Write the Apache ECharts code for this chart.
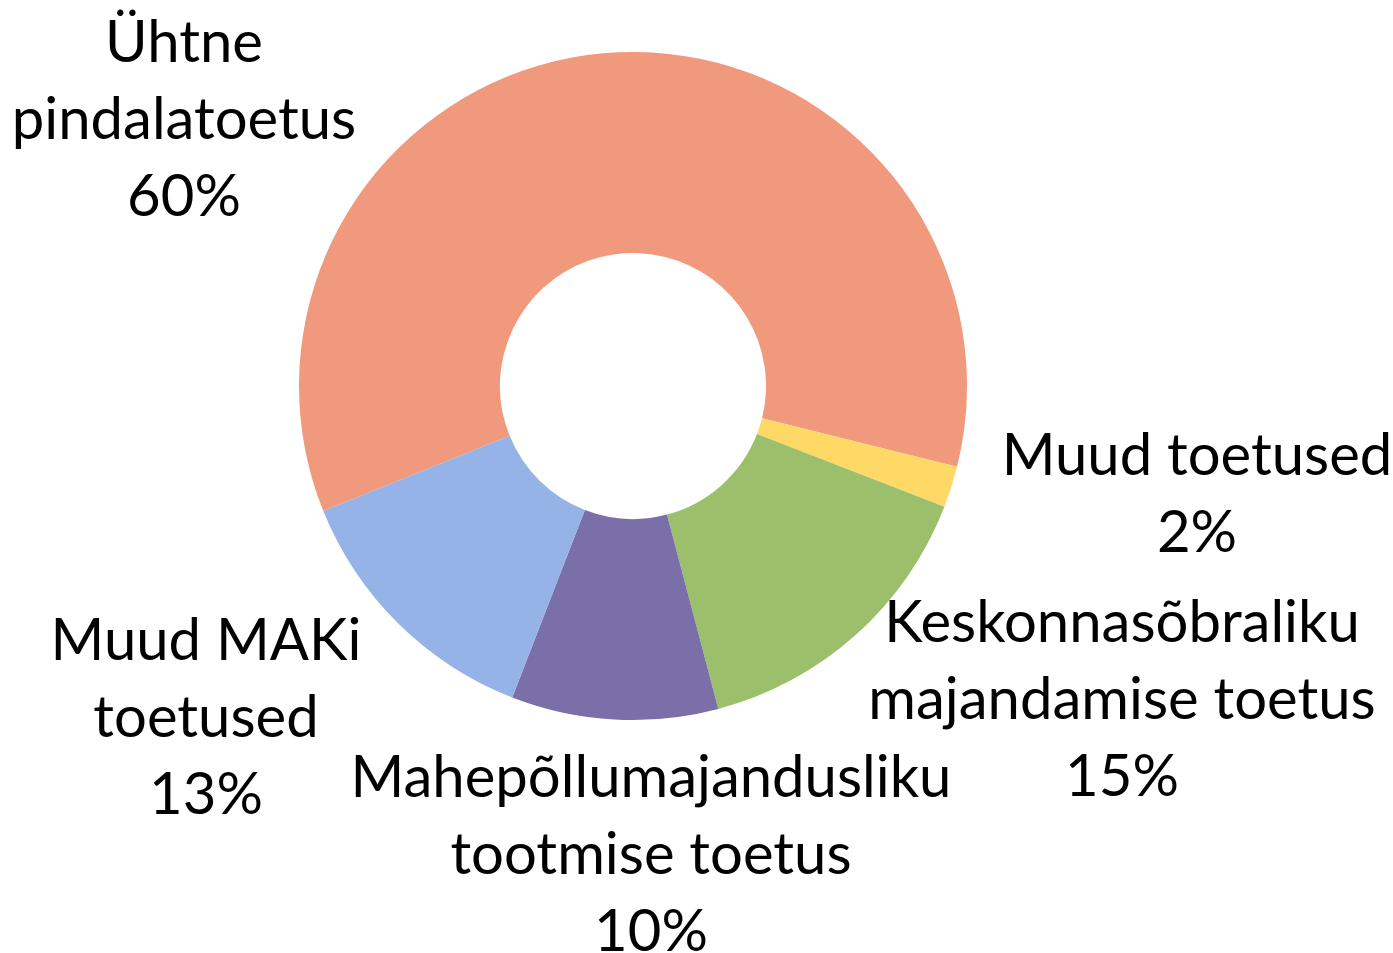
<!DOCTYPE html>
<html>
<head>
<meta charset="utf-8">
<script src="https://cdn.jsdelivr.net/npm/echarts@6/dist/echarts.min.js"></script>
<style>
html,body{margin:0;padding:0;background:#fff;}
#chart{width:1393px;height:953px;}
</style>
</head>
<body>
<div id="chart"></div>
<script>
// Data
const categories = [
  'Ühtne\npindalatoetus',
  'Muud toetused',
  'Keskonnasõbraliku\nmajandamise toetus',
  'Mahepõllumajandusliku\ntootmise toetus',
  'Muud MAKi\ntoetused'
];
const shares = [60, 2, 15, 10, 13];

// Styling / layout (not data)
const colors = ['#F0997D', '#FFD966', '#9BBF6A', '#7A6FA8', '#95B3E6'];
const labelCenters = [
  [184, 120],
  [1197, 495],
  [1122, 700],
  [651, 855],
  [206, 718]
];

const chart = echarts.init(document.getElementById('chart'), null, {renderer: 'canvas'});
chart.setOption({
  animation: false,
  backgroundColor: '#ffffff',
  series: [{
    type: 'pie',
    center: [633, 386],
    radius: [133, 334],
    startAngle: 202,
    clockwise: true,
    avoidLabelOverlap: false,
    data: categories.map((c, i) => ({
      name: c,
      value: shares[i],
      itemStyle: {color: colors[i]}
    })),
    label: {
      show: true,
      position: 'outside',
      formatter: p => p.name + '\n' + p.value + '%',
      fontFamily: 'Lato',
      fontSize: 58,
      lineHeight: 77,
      color: '#000',
      align: 'center'
    },
    labelLine: {show: false},
    labelLayout: function (params) {
      const c = labelCenters[params.dataIndex];
      return {
        x: c[0],
        y: c[1],
        align: 'center',
        verticalAlign: 'middle'
      };
    },
    emphasis: {disabled: true}
  }]
});
</script>
</body>
</html>
